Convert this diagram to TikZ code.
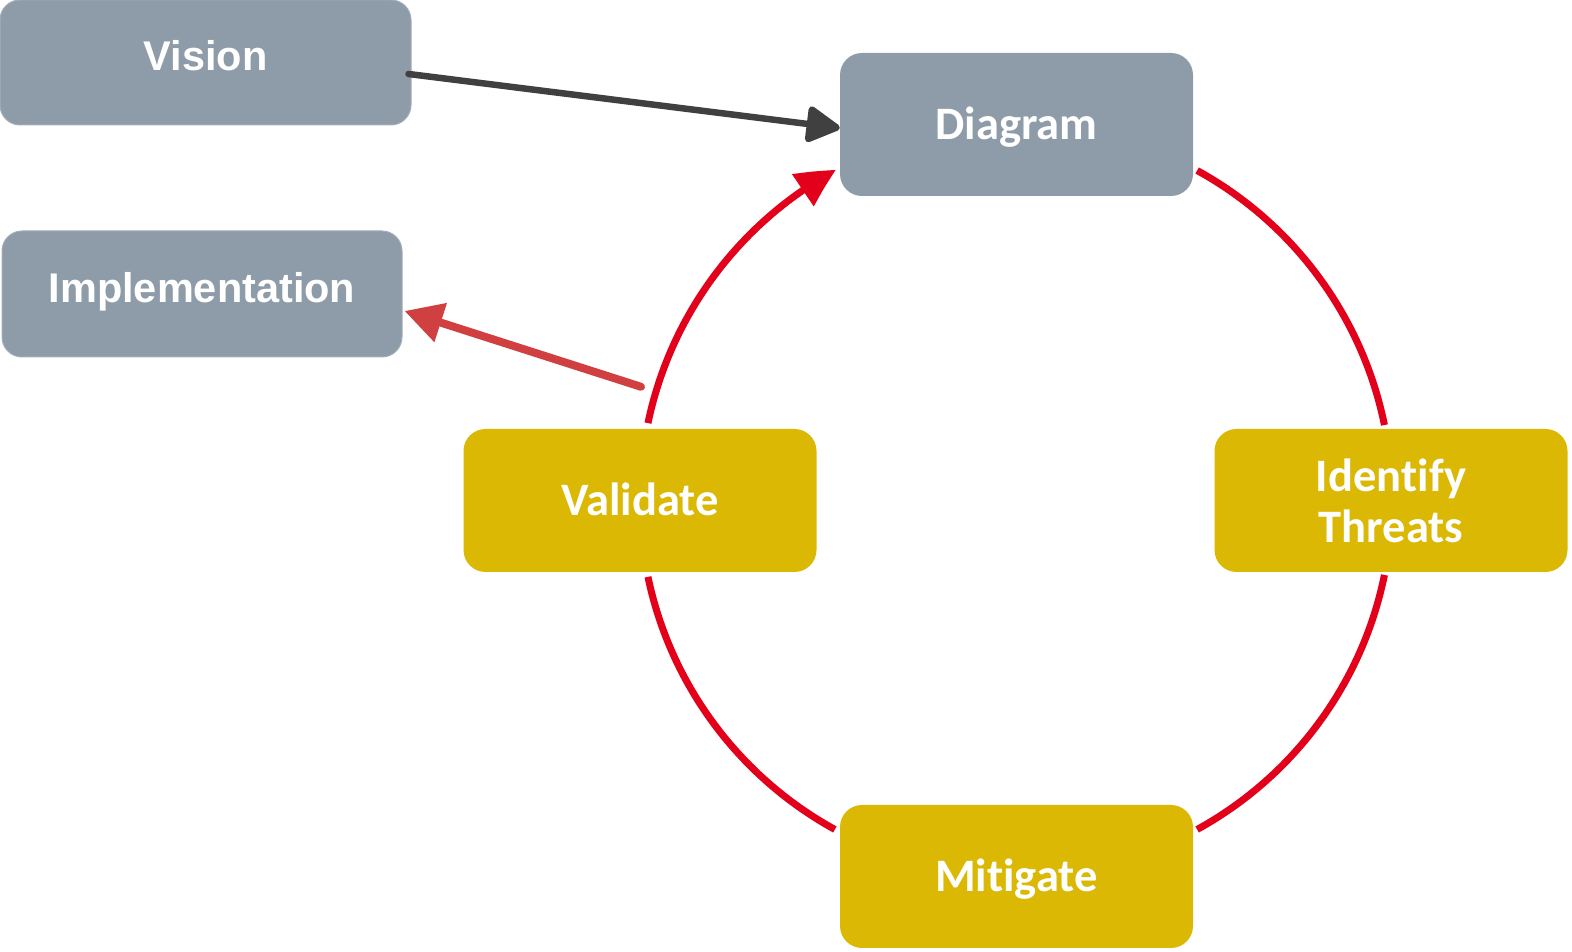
\documentclass[tikz,border=0pt]{standalone}
\usepackage{fontspec}
\usetikzlibrary{arrows.meta,calc,bending}
\newfontfamily\arialbold{Liberation Sans}[BoldFont={Liberation Sans Bold}]
\newfontfamily\calibri{Carlito}[Ligatures={NoCommon,NoContextual,NoRequired,NoRare},
  BoldFeatures={Ligatures={NoCommon,NoContextual,NoRequired,NoRare}}]
\definecolor{slate}{HTML}{8E9BA8}
\definecolor{slateedge}{HTML}{A3AEB8}
\definecolor{gold}{HTML}{DBB804}
\definecolor{cyclered}{HTML}{E2001A}
\definecolor{darkarrow}{HTML}{404040}
\definecolor{softred}{HTML}{D04040}
\begin{document}
\begin{tikzpicture}[x=1pt,y=1pt,
  greybox/.style={fill=slate, draw=slateedge, line width=1pt, rounded corners=20pt,
    inner sep=0pt, text=white, font=\arialbold\bfseries\fontsize{41.5}{44}\selectfont},
  stagebox/.style={fill=gold, draw=none, rounded corners=22pt, minimum width=353pt,
    minimum height=143pt, inner sep=0pt, text=white, align=center,
    font=\calibri\bfseries\fontsize{46.5}{51}\selectfont},
  diagbox/.style={stagebox, fill=slate},
  cyclearc/.style={draw=cyclered, line width=7pt},
]
\useasboundingbox (0,0) rectangle (1572,952);

% input / output boxes
\node[greybox, minimum width=411pt, minimum height=125pt, text height=29.7pt, text depth=14pt]
  (vision) at (205.5,889.5) {Vision};
\node[greybox, minimum width=400pt, minimum height=126pt, text height=29.7pt, text depth=12pt]
  (impl) at (202,658) {Implementation};

% the four stages of the cycle
\node[diagbox, text height=29.9pt, text depth=0pt] (diagram) at (1016.5,827.5) {Diagram};
\node[stagebox] (identify) at (1391,451.5) {Iden\kern0ptti\kern0ptfy\\Threats};
\node[stagebox, text height=29.9pt, text depth=0pt] (mitigate) at (1016.5,75.5) {Mi\kern0ptti\kern0ptgate};
\node[stagebox, text height=29.9pt, text depth=0pt] (validate) at (640,451.5) {Validate};

% cycle arcs
\coordinate (c) at (1016,452);
\draw[cyclearc] ($(c)+(61.2:376)$) arc[start angle=61.2, end angle=11.5, radius=376];
\draw[cyclearc] ($(c)+(-11.5:376)$) arc[start angle=-11.5, end angle=-61.2, radius=376];
\draw[cyclearc] ($(c)+(-118.8:376)$) arc[start angle=-118.8, end angle=-168.2, radius=376];
\draw[cyclearc, -{Triangle[length=39pt, width=37pt, bend]}]
  ($(c)+(168.2:376)$) arc[start angle=168.2, end angle=118.6, radius=376];

% vision feeds the diagram
\draw[darkarrow, line width=6.5pt, line cap=round, -{Triangle[length=37pt, width=39pt, round=false]}]
  ($(vision.east)+(-3,-11.5)$) -- ($(diagram.west)+(0,-3.5)$);

% validated results go to implementation
\draw[softred, line width=8pt, line cap=round, -{Triangle[length=38pt, width=39pt]}]
  ($(validate.north)+(1,42)$) -- ($(impl.east)+(2,-17)$);
\end{tikzpicture}
\end{document}
